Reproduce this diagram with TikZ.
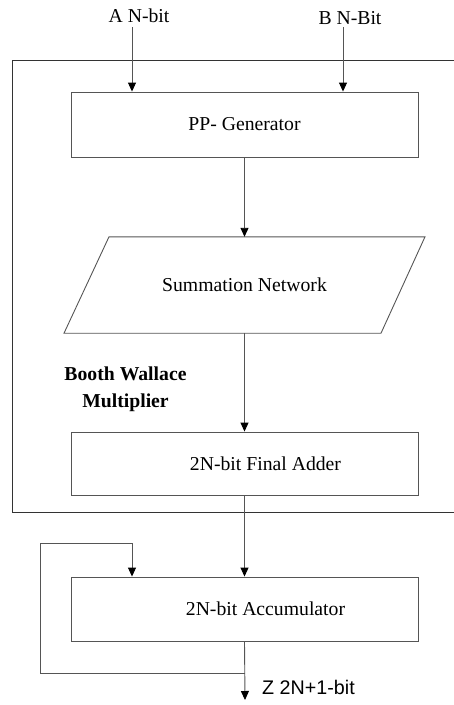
\documentclass[tikz,border=0pt]{standalone}
\usepackage{fontspec}
\setmainfont{Liberation Serif}
\newfontfamily\arialfont{Liberation Sans}
\usetikzlibrary{arrows.meta}
\definecolor{linegray}{RGB}{85,85,85}
\tikzset{
  txt/.style={font=\fontsize{19.7}{23}\selectfont, inner sep=0pt},
  block/.style={draw=linegray, line width=0.9pt, fill=white, minimum width=347pt, inner sep=0pt, txt},
  arr/.style={draw=linegray, line width=0.9pt, -{Triangle[width=8pt,length=9pt,color=black]}},
}
\begin{document}
\begin{tikzpicture}[x=1pt,y=-1pt]
\useasboundingbox (0,0) rectangle (454,705);

% outer frame of the multiplier (open on the right)
\draw[line width=0.9pt, black!80] (454,60) -- (12,60) -- (12,512) -- (454,512);

% inputs
\node[txt] (a) at (139,16) {A N-bit};
\node[txt] (b) at (350,18) {B N-Bit};
\coordinate (ain) at (132,27);
\coordinate (bin) at (343,27);

% blocks
\node[block, minimum height=65pt] (pp) at (244.5,124.5) {PP- Generator};

% summation network: a parallelogram around a text node of the same height
\node[txt, minimum height=96pt] (sn) at (244.5,285) {Summation Network};
\draw[draw=linegray, line width=0.9pt]
  ([xshift=-135.5pt]sn.north) -- ([xshift=180.5pt]sn.north) --
  ([xshift=136.5pt]sn.south) -- ([xshift=-180.5pt]sn.south) -- cycle;

\node[block, minimum height=63pt, label={[txt, xshift=21pt]center:2N-bit Final Adder}] (fa) at (244.5,463.5) {};
\node[block, minimum height=64pt, label={[txt, xshift=21pt]center:2N-bit Accumulator}] (acc) at (244.5,609) {};

\node[txt, font=\fontsize{19.7}{27}\selectfont\bfseries, align=center] (bw) at (125.5,389) {Booth Wallace\\Multiplier};

% connectors
\draw[arr] (ain) -- (ain |- pp.north);
\draw[arr] (bin) -- (bin |- pp.north);
\draw[arr] (pp.south) -- (sn.north);
\draw[arr] (sn.south) -- (fa.north);
\draw[arr] (fa.south) -- (acc.north);

\coordinate (fb) at (245,673);
\coordinate (zout) at (245,700);
\draw[arr] (acc.south) -- (zout);
\draw[arr] (fb) -| (40,543) -| (acc.north -| ain);

\node[txt, font=\arialfont\fontsize{19.7}{23}\selectfont] (z) at (308.5,687) {Z 2N+1-bit};
\end{tikzpicture}
\end{document}
